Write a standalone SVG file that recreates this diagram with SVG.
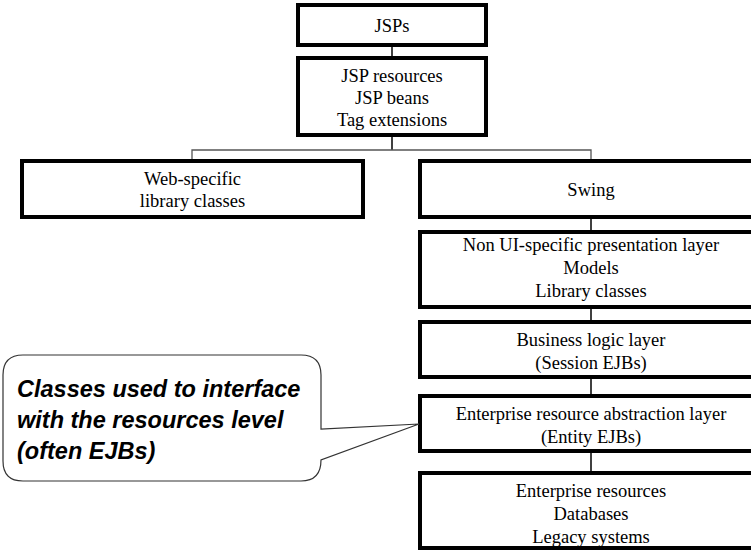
<svg xmlns="http://www.w3.org/2000/svg" width="751" height="550" viewBox="0 0 751 550">
  <style>
    .box { fill: #ffffff; stroke: #000000; stroke-width: 4; }
    .lbl { font-family: "Liberation Serif", "Times New Roman", serif; font-size: 18.5px; fill: #000000; text-anchor: middle; }
    .wire { fill: none; stroke: #000000; stroke-width: 1.5; }
    .bus { fill: none; stroke: #555555; stroke-width: 1.3; }
    .note { fill: #ffffff; stroke: #333333; stroke-width: 1.2; }
    .notetxt { font-family: "Liberation Sans", Arial, sans-serif; font-size: 23.5px; font-weight: bold; font-style: italic; fill: #000000; }
  </style>
  <rect width="751" height="550" fill="#ffffff"/>

  <!-- connectors -->
  <g id="connectors">
    <line class="wire" x1="392" y1="45" x2="392" y2="58"/>
    <line class="wire" x1="392" y1="135" x2="392" y2="150"/>
    <polyline class="bus" points="192,161 192,150 591,150 591,161"/>
    <line class="wire" x1="591" y1="217" x2="591" y2="232"/>
    <line class="wire" x1="591" y1="307" x2="591" y2="322"/>
    <line class="wire" x1="591" y1="377" x2="591" y2="396"/>
    <line class="wire" x1="591" y1="451" x2="591" y2="473"/>
  </g>

  <g id="jsps">
    <rect class="box" x="298" y="5" width="188" height="40"/>
    <text class="lbl" x="392" y="32">JSPs</text>
  </g>

  <g id="jsp-resources">
    <rect class="box" x="298" y="58" width="188" height="77"/>
    <text class="lbl" x="392" y="82">JSP resources</text>
    <text class="lbl" x="392" y="104">JSP beans</text>
    <text class="lbl" x="392" y="126">Tag extensions</text>
  </g>

  <g id="web-library">
    <rect class="box" x="22" y="161" width="341" height="56"/>
    <text class="lbl" x="192.5" y="185">Web-specific</text>
    <text class="lbl" x="192.5" y="207">library classes</text>
  </g>

  <g id="swing">
    <rect class="box" x="420" y="161" width="342" height="56"/>
    <text class="lbl" x="591" y="196">Swing</text>
  </g>

  <g id="presentation">
    <rect class="box" x="420" y="232" width="342" height="75"/>
    <text class="lbl" x="591" y="251">Non UI-specific presentation layer</text>
    <text class="lbl" x="591" y="274">Models</text>
    <text class="lbl" x="591" y="297">Library classes</text>
  </g>

  <g id="business">
    <rect class="box" x="420" y="322" width="342" height="55"/>
    <text class="lbl" x="591" y="346">Business logic layer</text>
    <text class="lbl" x="591" y="369">(Session EJBs)</text>
  </g>

  <g id="abstraction">
    <rect class="box" x="420" y="396" width="342" height="55"/>
    <text class="lbl" x="591" y="420">Enterprise resource abstraction layer</text>
    <text class="lbl" x="591" y="443">(Entity EJBs)</text>
  </g>

  <g id="resources">
    <rect class="box" x="420" y="473" width="342" height="75"/>
    <text class="lbl" x="591" y="497">Enterprise resources</text>
    <text class="lbl" x="591" y="520">Databases</text>
    <text class="lbl" x="591" y="543">Legacy systems</text>
  </g>

  <!-- callout pointing at the abstraction layer -->
  <g id="callout">
    <path class="note" d="M 23 355 H 301 Q 321 355 321 375 V 429 L 419 424 L 321 460 Q 321 481 301 481 H 23 Q 3 481 3 461 V 375 Q 3 355 23 355 Z"/>
    <text class="notetxt" x="17" y="397">Classes used to interface</text>
    <text class="notetxt" x="17" y="428">with the resources level</text>
    <text class="notetxt" x="17" y="459">(often EJBs)</text>
  </g>
</svg>
